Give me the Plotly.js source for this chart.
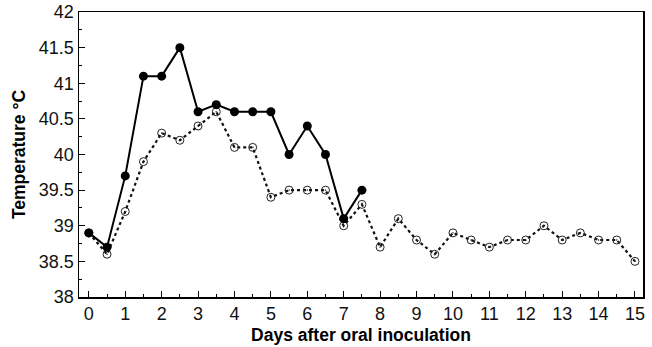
<!DOCTYPE html>
<html><head><meta charset="utf-8">
<script src="https://cdn.plot.ly/plotly-3.0.1.min.js"></script>
<style>body{margin:0;background:#fff}#c{width:652px;height:347px}</style>
</head><body><div id="c"></div>
<script>
const daysA = [0,0.5,1,1.5,2,2.5,3,3.5,4,4.5,5,5.5,6,6.5,7,7.5];
const tempA = [38.9,38.7,39.7,41.1,41.1,41.5,40.6,40.7,40.6,40.6,40.6,40.0,40.4,40.0,39.1,39.5];
const daysB = [0,0.5,1,1.5,2,2.5,3,3.5,4,4.5,5,5.5,6,6.5,7,7.5,8,8.5,9,9.5,10,10.5,11,11.5,12,12.5,13,13.5,14,14.5,15];
const tempB = [38.9,38.6,39.2,39.9,40.3,40.2,40.4,40.6,40.1,40.1,39.4,39.5,39.5,39.5,39.0,39.3,38.7,39.1,38.8,38.6,38.9,38.8,38.7,38.8,38.8,39.0,38.8,38.9,38.8,38.8,38.5];
const xTicks = [0,1,2,3,4,5,6,7,8,9,10,11,12,13,14,15];
const yTicks = [38,38.5,39,39.5,40,40.5,41,41.5,42];

const traces = [
  {x: daysB, y: tempB, mode: 'lines+markers', type: 'scatter',
   line: {color: '#111', width: 2.2, dash: '3px,3px'},
   marker: {symbol: 'circle-open-dot', size: 8, color: '#222', line: {width: 1}}},
  {x: daysA, y: tempA, mode: 'lines+markers', type: 'scatter',
   line: {color: '#000', width: 2},
   marker: {symbol: 'circle', size: 9, color: '#000'}}
];
const fam = 'Liberation Sans, Arial, sans-serif';
const tickFont = {family: fam, size: 18, color: '#111'};
const layout = {
  width: 652, height: 347,
  margin: {l: 79, r: 9, t: 12, b: 50},
  showlegend: false,
  paper_bgcolor: '#fff', plot_bgcolor: '#fff',
  font: {family: fam, size: 18, color: '#000'},
  xaxis: {
    range: [-0.27, 15.22], tickvals: xTicks, ticktext: xTicks.map(String),
    ticks: 'inside', ticklen: 6, tickcolor: '#000', showgrid: false, zeroline: false,
    showline: true, linecolor: '#000', linewidth: 1.5, mirror: true,
    minor: {dtick: 0.5, tick0: 0, ticks: 'inside', ticklen: 3, tickcolor: '#000', showgrid: false},
    tickfont: tickFont,
    title: {text: '<b>Days after oral inoculation</b>', font: {family: fam, size: 17.5, color: '#000'}, standoff: 5}
  },
  yaxis: {
    range: [38, 42], tickvals: yTicks, ticktext: yTicks.map(String),
    ticks: 'inside', ticklen: 6, tickcolor: '#000', showgrid: false, zeroline: false,
    showline: true, linecolor: '#000', linewidth: 1.5, mirror: true,
    minor: {dtick: 0.25, tick0: 38, ticks: 'inside', ticklen: 3, tickcolor: '#000', showgrid: false},
    tickfont: tickFont,
    title: {text: '<b>Temperature °C</b>', font: {family: fam, size: 17.5, color: '#000'}, standoff: 8}
  }
};
Plotly.newPlot('c', traces, layout, {displayModeBar: false, staticPlot: true});
</script></body></html>
